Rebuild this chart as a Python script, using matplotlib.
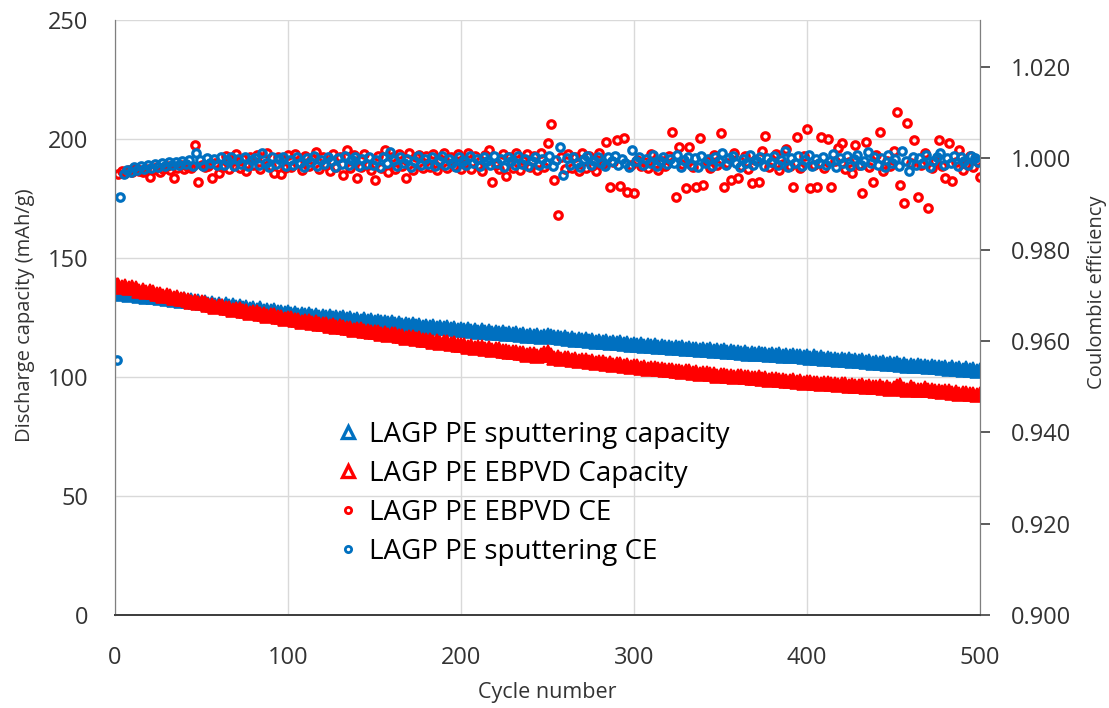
import matplotlib.pyplot as plt
from matplotlib.lines import Line2D

plt.rcParams['font.family'] = ['Open Sans', 'DejaVu Sans']

BLUE = '#0070C0'
RED = '#FF0000'
TXT = '#333333'

# discharge capacity, cycle 1 then every even cycle
cap_cycles = [1] + list(range(2, 501, 2))
cap_sputter = [
    135.5,
    135.6, 134.9, 135.3, 134.6, 134.9, 134.8, 134.1, 134.6, 133.7, 134.2,
    133.4, 134.0, 133.2, 133.6, 132.8, 133.2, 132.5, 133.0, 132.1, 132.6,
    131.8, 132.4, 131.5, 131.9, 131.1, 131.5, 130.7, 131.2, 130.4, 130.8,
    129.9, 130.5, 129.7, 130.1, 129.4, 129.8, 129.0, 129.3, 128.6, 129.0,
    128.2, 128.8, 127.9, 128.3, 127.6, 128.0, 127.2, 127.5, 126.8, 127.2,
    126.4, 127.0, 126.1, 126.5, 125.9, 126.4, 125.7, 126.0, 125.3, 125.8,
    125.1, 125.6, 124.8, 125.2, 124.6, 125.0, 124.3, 124.6, 123.9, 124.4,
    123.7, 124.2, 123.5, 123.8, 123.1, 123.6, 122.9, 123.2, 122.5, 122.9,
    122.3, 122.8, 122.0, 122.4, 121.8, 122.2, 121.5, 121.8, 121.1, 121.6,
    120.9, 121.4, 120.6, 121.0, 120.4, 120.9, 120.2, 120.5, 119.8, 120.2,
    119.6, 120.1, 119.3, 119.7, 119.1, 119.6, 118.9, 119.2, 118.6, 119.0,
    118.4, 118.9, 118.1, 118.5, 117.9, 118.4, 117.7, 118.0, 117.4, 117.8,
    117.2, 117.7, 116.9, 117.3, 117.6, 117.3, 116.6, 116.9, 116.2, 116.7,
    116.0, 116.5, 115.7, 116.1, 115.5, 115.9, 115.2, 115.5, 114.9, 115.3,
    114.6, 115.1, 114.3, 114.7, 114.1, 114.6, 113.9, 114.2, 113.6, 114.0,
    113.4, 113.9, 113.1, 113.5, 112.9, 113.4, 112.8, 113.0, 112.4, 112.8,
    112.3, 112.8, 112.0, 112.4, 111.9, 112.3, 111.7, 111.9, 111.3, 111.7,
    111.2, 111.7, 110.9, 111.3, 110.8, 111.3, 110.7, 110.9, 110.3, 110.7,
    110.1, 110.6, 109.8, 110.2, 109.7, 110.2, 109.6, 109.8, 109.2, 109.6,
    109.1, 109.6, 108.8, 109.2, 108.7, 109.2, 108.6, 108.8, 108.2, 108.6,
    108.1, 108.6, 107.8, 108.2, 107.6, 108.1, 107.5, 107.7, 107.1, 107.5,
    107.0, 107.5, 106.7, 107.1, 106.6, 107.0, 106.4, 106.6, 106.0, 106.4,
    105.8, 106.3, 105.5, 105.9, 105.4, 105.8, 105.2, 105.4, 104.8, 105.2,
    104.7, 105.2, 104.4, 104.8, 104.3, 104.7, 104.1, 104.3, 103.7, 104.1,
    103.5, 104.0, 103.2, 103.6, 103.1, 103.6, 103.0, 103.2, 102.6, 102.9,
]
cap_ebpvd = [
    138.6,
    138.7, 137.9, 138.2, 137.3, 137.6, 137.2, 136.3, 136.6, 135.7, 136.0,
    135.6, 134.8, 135.0, 134.2, 134.4, 134.1, 133.2, 133.4, 132.6, 132.9,
    132.5, 131.7, 131.9, 131.1, 131.3, 131.0, 130.2, 130.4, 129.6, 129.9,
    129.7, 128.9, 129.1, 128.3, 128.6, 128.4, 127.6, 127.8, 127.0, 127.3,
    127.2, 126.4, 126.6, 125.8, 126.1, 125.9, 125.1, 125.3, 124.5, 124.8,
    124.7, 123.9, 124.1, 123.3, 123.6, 123.5, 122.7, 122.9, 122.1, 122.4,
    122.4, 121.6, 121.8, 121.0, 121.3, 121.2, 120.4, 120.7, 119.9, 120.2,
    120.1, 119.3, 119.5, 118.7, 119.0, 119.0, 118.2, 118.4, 117.6, 117.9,
    117.9, 117.1, 117.3, 116.5, 116.8, 116.8, 116.0, 116.2, 115.4, 115.7,
    115.7, 114.9, 115.1, 114.3, 114.6, 114.7, 113.9, 114.1, 113.3, 113.6,
    113.6, 112.8, 113.0, 112.2, 112.5, 112.6, 111.8, 112.0, 111.3, 111.6,
    111.7, 110.9, 111.1, 110.4, 110.7, 110.7, 109.9, 110.1, 109.4, 109.7,
    109.8, 109.0, 109.3, 109.9, 110.4, 109.2, 108.0, 108.2, 107.5, 107.8,
    108.0, 107.2, 107.4, 106.7, 107.0, 107.1, 106.4, 106.6, 105.9, 106.2,
    106.2, 105.5, 105.7, 105.0, 105.3, 105.4, 104.7, 104.9, 104.2, 104.5,
    104.6, 103.9, 104.1, 103.4, 103.7, 103.9, 103.2, 103.4, 102.8, 103.1,
    103.1, 102.5, 102.7, 102.0, 102.3, 102.4, 101.8, 102.0, 101.3, 101.6,
    101.7, 101.1, 101.3, 100.6, 100.9, 101.0, 100.4, 100.6, 100.0, 100.3,
    100.4, 99.8, 100.0, 99.4, 99.7, 99.8, 99.2, 99.4, 98.8, 99.1,
    99.2, 98.6, 98.8, 98.2, 98.5, 98.6, 98.0, 98.2, 97.6, 97.9,
    98.0, 97.4, 97.6, 97.1, 97.4, 97.5, 96.9, 97.1, 96.6, 96.9,
    97.0, 96.4, 96.6, 96.1, 96.4, 96.5, 95.9, 96.1, 95.6, 95.9,
    96.0, 95.4, 95.6, 95.1, 95.4, 96.3, 96.6, 95.1, 94.6, 95.6,
    95.0, 94.4, 94.6, 95.5, 94.4, 94.5, 93.9, 94.1, 93.6, 93.9,
    93.9, 93.3, 93.5, 93.0, 93.3, 93.4, 92.8, 93.0, 92.5, 92.8,
]

# coulombic efficiency, sputtering on odd cycles, EBPVD on even cycles
ce_cycles_sputter = list(range(1, 500, 2))
ce_sputter = [
    0.9558, 0.9915, 0.9966, 0.9975, 0.9971, 0.9980, 0.9974, 0.9983, 0.9977, 0.9985,
    0.9979, 0.9988, 0.9982, 0.9990, 0.9984, 0.9991, 0.9985, 0.9993, 0.9986, 0.9994,
    0.9987, 0.9997, 0.9984, 1.0012, 0.9996, 0.9983, 1.0001, 0.9989, 0.9998, 0.9985,
    1.0002, 0.9986, 0.9997, 1.0004, 0.9983, 0.9999, 0.9988, 1.0003, 0.9984, 0.9996,
    1.0001, 0.9985, 1.0012, 0.9990, 0.9982, 1.0003, 0.9987, 0.9998, 1.0004, 0.9983,
    0.9997, 0.9986, 1.0003, 0.9989, 0.9982, 1.0001, 0.9992, 1.0005, 0.9984, 0.9996,
    0.9987, 1.0003, 0.9995, 0.9981, 1.0000, 0.9988, 1.0006, 0.9985, 0.9997, 1.0002,
    0.9983, 0.9999, 0.9988, 1.0004, 0.9985, 0.9996, 0.9982, 1.0002, 0.9990, 1.0013,
    0.9997, 0.9984, 1.0003, 0.9989, 0.9999, 0.9982, 0.9994, 1.0005, 0.9986, 0.9998,
    0.9988, 1.0003, 0.9983, 0.9995, 1.0006, 0.9986, 0.9999, 0.9990, 0.9982, 1.0002,
    0.9994, 0.9985, 1.0005, 0.9989, 0.9999, 0.9983, 1.0003, 0.9995, 0.9986, 1.0006,
    0.9990, 0.9998, 0.9982, 1.0003, 0.9994, 0.9986, 1.0005, 0.9988, 0.9999, 0.9983,
    0.9995, 1.0004, 0.9986, 0.9999, 0.9990, 1.0006, 0.9983, 0.9996, 1.0025, 0.9963,
    1.0000, 0.9985, 1.0004, 0.9990, 0.9982, 0.9999, 1.0006, 0.9986, 0.9995, 1.0003,
    0.9989, 0.9983, 1.0002, 0.9994, 1.0006, 0.9986, 0.9999, 0.9990, 0.9982, 1.0018,
    0.9995, 1.0004, 0.9986, 0.9999, 0.9989, 1.0007, 0.9983, 0.9995, 1.0003, 0.9987,
    0.9999, 0.9990, 1.0008, 0.9982, 0.9996, 1.0004, 0.9986, 1.0000, 0.9981, 1.0006,
    0.9990, 0.9999, 0.9984, 1.0004, 0.9994, 1.0012, 0.9986, 1.0000, 1.0006, 0.9989,
    0.9981, 0.9999, 0.9990, 1.0007, 0.9985, 0.9995, 1.0004, 0.9983, 1.0000, 0.9991,
    1.0006, 0.9985, 0.9996, 1.0015, 0.9980, 1.0000, 0.9990, 1.0005, 0.9984, 0.9996,
    1.0007, 0.9983, 0.9999, 0.9990, 1.0004, 0.9985, 0.9995, 1.0009, 0.9981, 1.0000,
    0.9990, 1.0005, 0.9983, 0.9999, 1.0007, 0.9986, 0.9995, 1.0013, 0.9990, 1.0004,
    0.9985, 1.0000, 0.9980, 1.0007, 0.9990, 0.9999, 0.9983, 1.0016, 0.9995, 0.9973,
    1.0004, 0.9986, 1.0000, 0.9990, 1.0008, 0.9980, 0.9995, 1.0004, 1.0012, 0.9986,
    1.0000, 0.9990, 1.0006, 0.9983, 1.0003, 0.9995, 0.9986, 1.0006, 1.0000, 0.9993,
]
ce_cycles_ebpvd = list(range(2, 501, 2))
ce_ebpvd = [
    0.9965, 0.9972, 0.9968, 0.9975, 0.9970, 0.9978, 0.9973, 0.9969, 0.9977, 0.9959,
    0.9974, 0.9980, 0.9971, 0.9977, 0.9983, 0.9974, 0.9957, 0.9979, 0.9985, 0.9976,
    0.9982, 0.9978, 1.0029, 0.9948, 0.9986, 0.9980, 0.9984, 0.9957, 0.9989, 0.9968,
    0.9982, 1.0006, 0.9976, 0.9995, 1.0009, 0.9979, 0.9999, 0.9973, 1.0004, 0.9985,
    1.0008, 0.9977, 0.9998, 1.0011, 0.9983, 0.9968, 1.0003, 0.9966, 0.9978, 1.0007,
    0.9980, 1.0010, 0.9989, 0.9974, 1.0006, 0.9983, 0.9999, 1.0014, 0.9976, 1.0004,
    0.9985, 0.9973, 1.0009, 0.9981, 1.0003, 0.9963, 1.0018, 0.9978, 1.0007, 0.9957,
    0.9981, 1.0010, 0.9986, 0.9974, 0.9952, 1.0006, 0.9979, 1.0018, 0.9970, 1.0004,
    0.9977, 1.0009, 0.9984, 0.9957, 1.0011, 0.9975, 1.0002, 1.0008, 0.9978, 1.0006,
    0.9982, 1.0010, 0.9974, 0.9997, 1.0012, 0.9979, 1.0004, 0.9983, 1.0009, 0.9976,
    0.9988, 1.0011, 0.9977, 1.0005, 0.9983, 0.9972, 1.0008, 1.0018, 0.9948, 0.9986,
    0.9976, 1.0009, 0.9962, 1.0004, 0.9979, 1.0012, 0.9974, 0.9996, 1.0010, 0.9980,
    1.0006, 0.9975, 1.0012, 0.9982, 1.0033, 1.0075, 0.9952, 0.9876, 1.0004, 0.9977,
    1.0010, 0.9979, 1.0003, 0.9973, 1.0012, 0.9978, 1.0006, 0.9984, 0.9972, 1.0011,
    0.9988, 1.0036, 0.9937, 0.9993, 1.0040, 0.9939, 1.0044, 0.9926, 0.9985, 0.9924,
    0.9996, 0.9984, 0.9992, 0.9979, 1.0010, 0.9987, 0.9975, 0.9995, 0.9983, 1.0005,
    1.0058, 0.9915, 1.0025, 0.9988, 0.9935, 1.0025, 0.9980, 0.9937, 1.0044, 0.9942,
    0.9995, 0.9978, 1.0008, 0.9986, 1.0055, 0.9937, 0.9990, 0.9952, 1.0012, 0.9957,
    0.9983, 1.0006, 0.9976, 0.9946, 0.9996, 0.9948, 1.0015, 1.0049, 0.9980, 0.9992,
    1.0010, 0.9974, 0.9988, 1.0020, 0.9983, 0.9937, 1.0047, 0.9978, 1.0005, 1.0064,
    0.9935, 0.9986, 0.9937, 1.0047, 0.9978, 1.0042, 0.9937, 0.9995, 1.0022, 1.0033,
    0.9976, 0.9992, 0.9968, 1.0029, 0.9985, 0.9924, 1.0036, 0.9980, 0.9948, 1.0008,
    1.0058, 0.9972, 0.9994, 0.9983, 1.0015, 1.0101, 0.9942, 0.9902, 1.0077, 0.9989,
    1.0040, 0.9915, 0.9986, 1.0012, 0.9891, 0.9978, 0.9995, 1.0040, 0.9984, 0.9957,
    1.0033, 0.9950, 0.9992, 1.0018, 0.9975, 0.9988, 1.0006, 0.9980, 0.9995, 0.9959,
]

labels = ['LAGP PE sputtering capacity', 'LAGP PE EBPVD Capacity',
          'LAGP PE EBPVD CE', 'LAGP PE sputtering CE']

fig = plt.figure(figsize=(11.09, 7.08), dpi=100)
ax = fig.add_axes([0.1037, 0.1314, 0.78, 0.8404])
ax2 = ax.twinx()

ax.plot(cap_cycles, cap_sputter, ls='none', marker='^', ms=10, color=BLUE, mec=BLUE, mew=1.2)
ax.plot(cap_cycles, cap_ebpvd, ls='none', marker='^', ms=10, color=RED, mec=RED, mew=1.2)
ax2.plot(ce_cycles_ebpvd, ce_ebpvd, ls='none', marker='o', ms=5.4, mfc='none', mec=RED, mew=2.3)
ax2.plot(ce_cycles_sputter, ce_sputter, ls='none', marker='o', ms=5.4, mfc='none', mec=BLUE, mew=2.3)

ax.set_xlim(0, 500)
ax.set_ylim(0, 250)
ax.set_xticks(range(0, 501, 100))
ax.set_yticks(range(0, 251, 50))
ax2.set_ylim(0.9, 1.0303)
ax2.set_yticks([0.90 + 0.02 * i for i in range(7)])
ax2.set_yticklabels([f'{0.90 + 0.02 * i:.3f}' for i in range(7)])

ax.grid(True, color='#d9d9d9', lw=1.0)
ax.set_axisbelow(True)

for a in (ax, ax2):
    a.spines['top'].set_visible(False)
    a.spines['left'].set_color('#7f7f7f')
    a.spines['right'].set_color('#7f7f7f')
    a.spines['bottom'].set_color('#404040')
    a.spines['bottom'].set_linewidth(1.4)

ax.tick_params(axis='x', length=0, pad=22, labelsize=17, labelcolor=TXT)
ax.tick_params(axis='y', length=0, pad=19, labelsize=17, labelcolor=TXT)
ax2.tick_params(axis='y', length=7, width=1.2, color='#404040', pad=15.5,
                labelsize=17, labelcolor=TXT)

ax.set_xlabel('Cycle number', fontsize=15.5, color=TXT)
ax.set_ylabel('Discharge capacity (mAh/g)', fontsize=14.5, color=TXT)
ax2.set_ylabel('Coulombic efficiency', fontsize=14.5, color=TXT)
ax.xaxis.set_label_coords(0.5, -0.112)
ax.yaxis.set_label_coords(-0.092, 0.503)
ax2.yaxis.set_label_coords(1.124, 0.543)

handles = [
    Line2D([], [], ls='none', marker='^', ms=9, mfc='none', mec=BLUE, mew=2.4),
    Line2D([], [], ls='none', marker='^', ms=9, mfc='none', mec=RED, mew=2.4),
    Line2D([], [], ls='none', marker='o', ms=4.5, mfc='none', mec=RED, mew=2),
    Line2D([], [], ls='none', marker='o', ms=4.5, mfc='none', mec=BLUE, mew=2),
]
ax2.legend(handles, labels, loc='upper left', bbox_to_anchor=(0.245, 0.345),
           frameon=False, fontsize=20, handlelength=0.7, handletextpad=0.4,
           labelspacing=0.4, borderaxespad=0)

fig.savefig('out.png', dpi=100)
